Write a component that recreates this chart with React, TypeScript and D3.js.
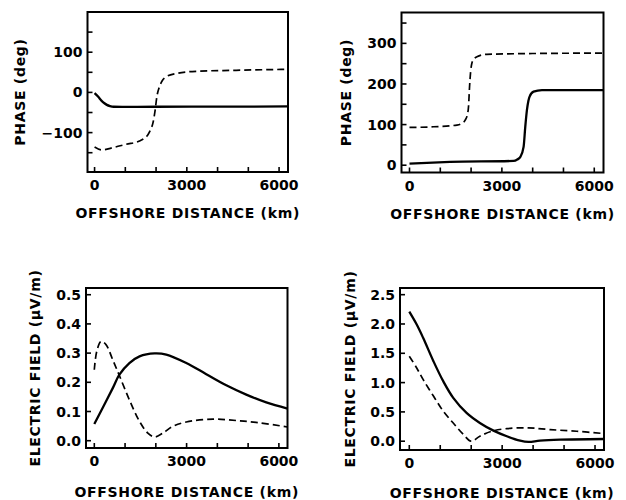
import React from "react";
import * as d3 from "d3";

type Pt = [number, number];

// ---- data (x in km) ----
const xTicks = [0, 1000, 2000, 3000, 4000, 5000, 6000];
const xLabels = [0, 3000, 6000];

// top-left: phase (deg)
const phaseA_solid: Pt[] = [
  [0, -2], [120, -11], [230, -21], [320, -27], [400, -31], [500, -34],
  [620, -35.7], [900, -36], [2000, -35.7], [4000, -35.5], [6300, -35],
];
const phaseA_dashed: Pt[] = [
  [0, -136], [230, -143], [620, -137], [1030, -129], [1460, -121],
  [1620, -114], [1730, -106], [1820, -93], [1895, -77], [1970, -44],
  [2025, -11], [2110, 14], [2200, 29], [2330, 39], [2650, 47],
  [3300, 52.5], [4600, 55], [6300, 57.5],
];

// top-right: phase (deg)
const phaseB_solid: Pt[] = [
  [0, 4], [1320, 8], [3380, 10.6], [3500, 14], [3600, 20.5], [3705, 45],
  [3760, 95], [3814, 136], [3860, 158], [3900, 169], [4028, 181],
  [4300, 185], [6300, 185],
];
const phaseB_dashed: Pt[] = [
  [0, 93], [780, 94.6], [1540, 98.8], [1700, 103], [1808, 111],
  [1880, 125], [1916, 144], [1950, 193], [1985, 230], [2025, 251],
  [2100, 262], [2190, 267], [2510, 273], [4000, 275], [6300, 276],
];

// bottom-left: electric field (uV/m)
const fieldA_solid: Pt[] = [
  [0, 0.057], [270, 0.112], [600, 0.18], [815, 0.226], [1140, 0.266],
  [1470, 0.289], [1960, 0.299], [2340, 0.295], [2990, 0.266], [3640, 0.228],
  [4290, 0.19], [4940, 0.158], [5590, 0.131], [6280, 0.11],
];
const fieldA_dashed: Pt[] = [
  [0, 0.243], [80, 0.306], [220, 0.34], [380, 0.329], [600, 0.277],
  [815, 0.223], [1140, 0.14], [1470, 0.066], [1740, 0.026], [1960, 0.013],
  [2230, 0.026], [2550, 0.049], [2990, 0.064], [3860, 0.074], [4620, 0.069],
  [5380, 0.061], [6280, 0.047],
];

// bottom-right: electric field (uV/m)
const fieldB_solid: Pt[] = [
  [0, 2.21], [240, 1.99], [450, 1.76], [780, 1.365], [1100, 1.02],
  [1420, 0.74], [1850, 0.483], [2280, 0.312], [2720, 0.181], [3150, 0.085],
  [3580, 0.01], [3850, -0.012], [4220, 0.01], [4870, 0.027], [6290, 0.038],
];
const fieldB_dashed: Pt[] = [
  [0, 1.45], [240, 1.25], [450, 1.05], [780, 0.77], [1100, 0.51],
  [1420, 0.31], [1750, 0.113], [1995, 0.0], [2280, 0.085], [2660, 0.17],
  [3150, 0.215], [3850, 0.227], [4550, 0.198], [5410, 0.17], [6290, 0.13],
];

const FONT = "'DejaVu Sans', sans-serif";

type PanelProps = {
  id: string;
  left: number;
  right: number;
  top: number;
  bottom: number;
  xDomain: [number, number];
  yDomain: [number, number];
  yTicks: number[];
  yLabels: number[];
  yFormat: (v: number) => string;
  yTitle: string;
  yTitleX: number;
  solid: Pt[];
  dashed: Pt[];
  titleDy: number;
  curve: d3.CurveFactory;
};

function Panel(p: PanelProps) {
  const x = d3.scaleLinear().domain(p.xDomain).range([p.left, p.right]);
  const y = d3.scaleLinear().domain(p.yDomain).range([p.bottom, p.top]);
  const line = d3
    .line<Pt>()
    .x((d) => x(d[0]))
    .y((d) => y(d[1]))
    .curve(p.curve);
  const cx = (p.left + p.right) / 2;
  const cy = (p.top + p.bottom) / 2;

  return (
    <g>
      <clipPath id={p.id}>
        <rect x={p.left} y={p.top} width={p.right - p.left} height={p.bottom - p.top} />
      </clipPath>
      <g clipPath={`url(#${p.id})`}>
        <path d={line(p.dashed) || ""} fill="none" stroke="#000" strokeWidth={1.7} strokeDasharray="7,4" />
        <path d={line(p.solid) || ""} fill="none" stroke="#000" strokeWidth={2.3} />
      </g>
      {xTicks.map((t) => (
        <line key={"xt" + t} x1={x(t)} x2={x(t)} y1={p.bottom} y2={p.bottom - 5} stroke="#000" strokeWidth={1.6} />
      ))}
      {p.yTicks.map((t) => (
        <line key={"yt" + t} x1={p.left} x2={p.left + 5} y1={y(t)} y2={y(t)} stroke="#000" strokeWidth={1.6} />
      ))}
      <rect x={p.left} y={p.top} width={p.right - p.left} height={p.bottom - p.top} fill="none" stroke="#000" strokeWidth={2} />
      {xLabels.map((t) => (
        <text key={"xl" + t} x={x(t)} y={p.bottom + 18} textAnchor="middle" fontSize={14} fontWeight="bold" fontFamily={FONT}>
          {t}
        </text>
      ))}
      {p.yLabels.map((t) => (
        <text key={"yl" + t} x={p.left - 5} y={y(t) + 5} textAnchor="end" fontSize={14} fontWeight="bold" fontFamily={FONT}>
          {p.yFormat(t)}
        </text>
      ))}
      <text x={cx} y={p.bottom + p.titleDy} textAnchor="middle" fontSize={14} fontWeight="bold" fontFamily={FONT} letterSpacing={0.7}>
        OFFSHORE DISTANCE (km)
      </text>
      <text
        transform={`translate(${p.yTitleX},${cy}) rotate(-90)`}
        textAnchor="middle"
        dy={5}
        fontSize={14}
        fontWeight="bold"
        fontFamily={FONT}
        letterSpacing={0.7}
      >
        {p.yTitle}
      </text>
    </g>
  );
}

const intFmt = (v: number) => (v < 0 ? "\u2212" + Math.abs(v) : String(v));
const decFmt = (v: number) => v.toFixed(1);
const fieldTitle = "ELECTRIC FIELD (\u03bcV/m)";

export default function App() {
  return (
    <svg width={626} height={500} style={{ position: "absolute", left: 0, top: 0, background: "#fff" }}>
      <Panel
        id="c1" left={87.5} right={288} top={12} bottom={172}
        xDomain={[-230, 6290]}
        yDomain={[-198, 200]}
        yTicks={[-150, -100, -50, 0, 50, 100, 150]}
        yLabels={[-100, 0, 100]}
        yFormat={intFmt}
        yTitle="PHASE (deg)" yTitleX={20}
        solid={phaseA_solid} dashed={phaseA_dashed} titleDy={46}
        curve={d3.curveMonotoneX}
      />
      <Panel
        id="c2" left={401.5} right={603.5} top={12.5} bottom={172.5}
        xDomain={[-260, 6300]}
        yDomain={[-18, 376]}
        yTicks={[0, 50, 100, 150, 200, 250, 300, 350]}
        yLabels={[0, 100, 200, 300]}
        yFormat={intFmt}
        yTitle="PHASE (deg)" yTitleX={346}
        solid={phaseB_solid} dashed={phaseB_dashed} titleDy={46}
        curve={d3.curveMonotoneX}
      />
      <Panel
        id="c3" left={86} right={287.5} top={288} bottom={448}
        xDomain={[-270, 6280]}
        yDomain={[-0.025, 0.523]}
        yTicks={[0, 0.1, 0.2, 0.3, 0.4, 0.5]}
        yLabels={[0, 0.1, 0.2, 0.3, 0.4, 0.5]}
        yFormat={decFmt}
        yTitle={fieldTitle} yTitleX={35}
        solid={fieldA_solid} dashed={fieldA_dashed} titleDy={49}
        curve={d3.curveCatmullRom.alpha(0.5)}
      />
      <Panel
        id="c4" left={400} right={604} top={288} bottom={450}
        xDomain={[-300, 6290]}
        yDomain={[-0.15, 2.614]}
        yTicks={[0, 0.5, 1, 1.5, 2, 2.5]}
        yLabels={[0, 0.5, 1, 1.5, 2, 2.5]}
        yFormat={decFmt}
        yTitle={fieldTitle} yTitleX={350}
        solid={fieldB_solid} dashed={fieldB_dashed} titleDy={48}
        curve={d3.curveCatmullRom.alpha(0.5)}
      />
    </svg>
  );
}
